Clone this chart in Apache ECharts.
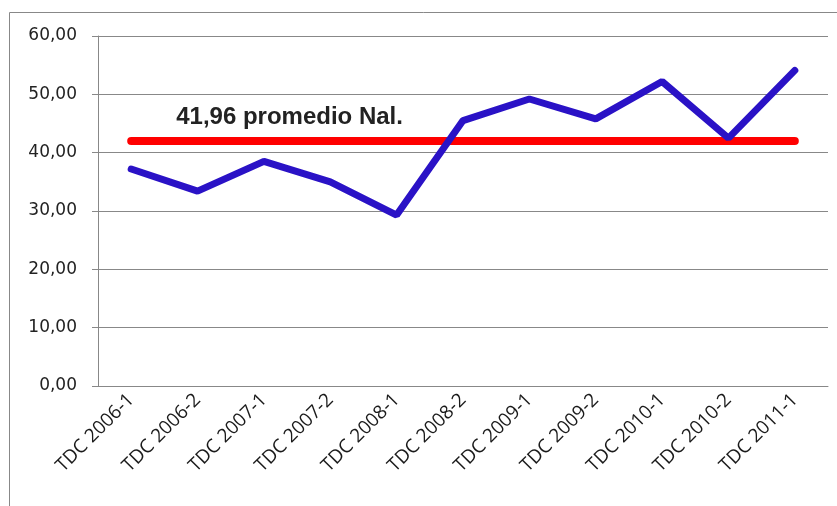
<!DOCTYPE html>
<html>
<head>
<meta charset="utf-8">
<script src="https://cdn.jsdelivr.net/npm/echarts@6/dist/echarts.min.js"></script>
<style>
  html, body { margin: 0; padding: 0; background: #fff; }
  #chart { width: 837px; height: 506px; }
</style>
</head>
<body>
<div id="chart"></div>
<script>
// periodos y valores
var periodos = ['TDC 2006-1', 'TDC 2006-2', 'TDC 2007-1', 'TDC 2007-2', 'TDC 2008-1', 'TDC 2008-2',
                'TDC 2009-1', 'TDC 2009-2', 'TDC 2010-1', 'TDC 2010-2', 'TDC 2011-1']
var valores = [37.2, 33.4, 38.5, 35.0, 29.3, 45.5, 49.2, 45.8, 52.2, 42.5, 54.1]
var promedio = 41.96
var yTicks = [0, 10, 20, 30, 40, 50, 60]

var mychart = echarts.init(document.getElementById('chart'))
mychart.setOption({
    animation: false,
    graphic: [{
        type: 'rect',
        shape: { x: 9.5, y: 12.5, width: 900, height: 600 },
        style: { fill: null, stroke: '#888', lineWidth: 1 },
        silent: true
    }],
    grid: { left: 98, right: 9, top: 36, bottom: 120 },
    xAxis: {
        type: 'category',
        data: periodos,
        boundaryGap: true,
        axisLine: { lineStyle: { color: '#888', width: 1 } },
        axisTick: { length: 6, lineStyle: { color: '#888' } },
        axisLabel: {
            rotate: 45,
            margin: 11,
            color: '#1a1a1a',
            fontFamily: 'Open Sans',
            fontSize: 19
        }
    },
    yAxis: {
        type: 'value',
        min: yTicks[0],
        max: yTicks[yTicks.length - 1],
        interval: 10,
        axisLine: { show: true, lineStyle: { color: '#888', width: 1 } },
        axisTick: { show: true, length: 6, lineStyle: { color: '#888' } },
        splitLine: { lineStyle: { color: '#888', width: 1 } },
        axisLabel: {
            margin: 21,
            color: '#222',
            fontFamily: 'DejaVu Sans',
            fontSize: 17,
            formatter: function (v) { return v.toFixed(2).replace('.', ',') }
        }
    },
    series: [{
        type: 'line',
        data: valores,
        symbol: 'none',
        lineStyle: { color: '#2a12c6', width: 7, cap: 'round' },
        z: 3,
        markLine: {
            silent: true,
            symbol: 'none',
            z: 2,
            lineStyle: { color: '#ff0000', width: 8, type: 'solid', cap: 'round' },
            label: {
                show: true,
                position: 'insideStartTop',
                formatter: '41,96 promedio Nal.',
                fontFamily: 'Liberation Sans',
                fontWeight: 'bold',
                fontSize: 24,
                color: '#222',
                distance: [45, 12]
            },
            data: [[
                { coord: [periodos[0], promedio] },
                { coord: [periodos[periodos.length - 1], promedio] }
            ]]
        }
    }]
})
</script>
</body>
</html>
